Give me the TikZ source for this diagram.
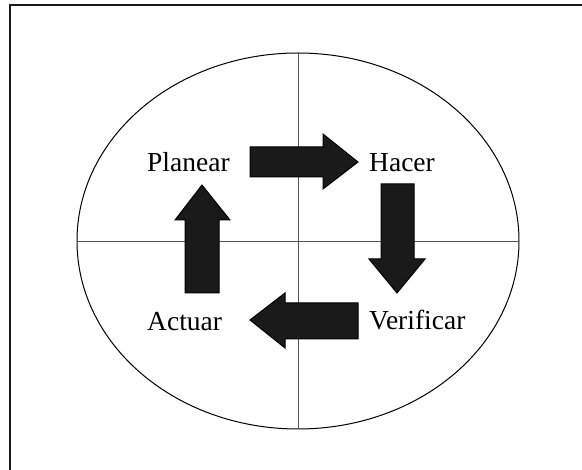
\documentclass[tikz,border=0pt]{standalone}
\usepackage{fontspec}
\setmainfont{Liberation Serif}
\definecolor{arrowfill}{HTML}{1A1A1A}
\definecolor{axiscolor}{HTML}{555555}

\begin{document}
\begin{tikzpicture}[
    x=1pt, y=-1pt,
    lbl/.style={font=\fontsize{27.5}{32}\selectfont, inner sep=0pt, anchor=base west},
    blockarrow/.style={fill=arrowfill, draw=black, line width=1pt, line join=miter},
]
\useasboundingbox (0,0) rectangle (582,470);

% Frame (top and left only)
\draw[line width=2pt, black!90] (582,5) -- (10,5) -- (10,470);

% Ellipse and quadrant lines
\draw[line width=1pt] (298,241) ellipse [x radius=221, y radius=188];
\draw[axiscolor, line width=0.8pt] (77,241) -- (519,241);
\draw[axiscolor, line width=0.8pt] (298,53) -- (298,429);

% Labels
\node[lbl] (plan) at (147,172) {Planear};
\node[lbl] (hacer) at (369,172) {Hacer};
\node[lbl] (verif) at (369,330) {Verificar};
\node[lbl] (actuar) at (147,331) {Actuar};

% Block arrows of the cycle
\draw[blockarrow] (250,147) -- (323,147) -- (323,134) -- (358,162)
    -- (323,189) -- (323,177) -- (250,177) -- cycle;
\draw[blockarrow] (381,184) -- (414,184) -- (414,259) -- (425,259)
    -- (397,293) -- (369,259) -- (381,259) -- cycle;
\draw[blockarrow] (358,303) -- (358,339) -- (285,339) -- (285,348)
    -- (250,320) -- (285,293) -- (285,303) -- cycle;
\draw[blockarrow] (185,293) -- (185,220) -- (175,220) -- (202,185)
    -- (230,220) -- (219,220) -- (219,293) -- cycle;

\end{tikzpicture}
\end{document}
